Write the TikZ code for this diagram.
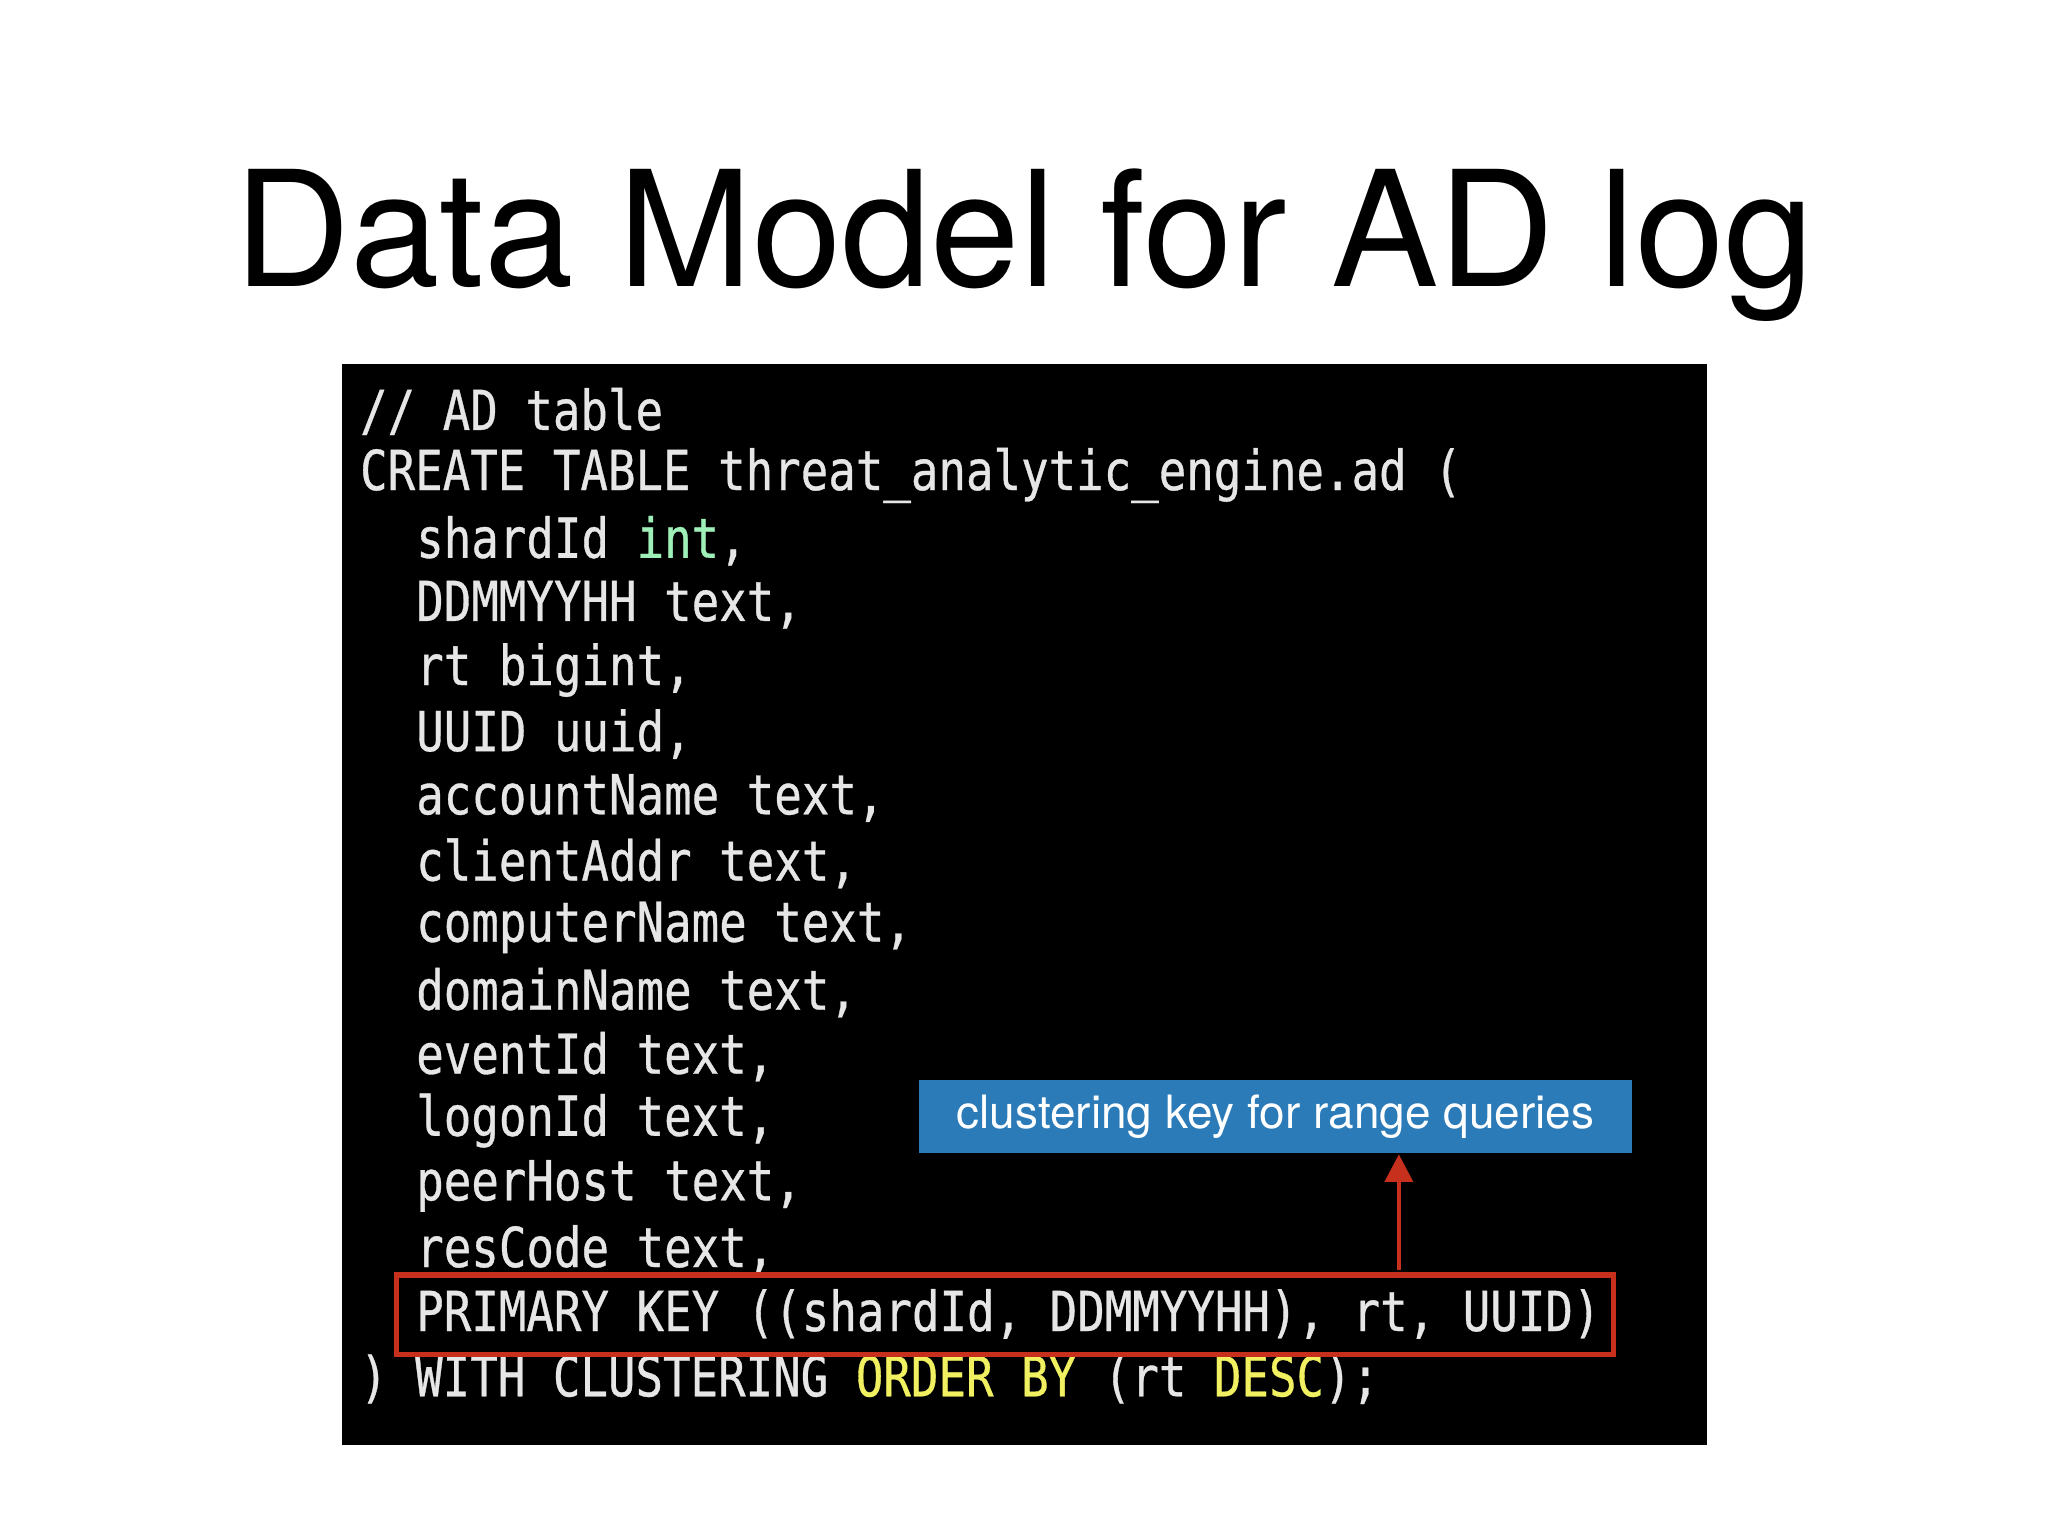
\documentclass[tikz,border=0pt]{standalone}
\usepackage{fontspec}
\setmainfont{TeX Gyre Heros}
\newfontfamily\code[FakeStretch=0.83,FakeBold=0.6]{DejaVu Sans Mono}
\usetikzlibrary{arrows.meta}
\definecolor{codefg}{HTML}{E6E6E6}
\definecolor{kwgreen}{HTML}{9EF0B8}
\definecolor{kwyellow}{HTML}{F0F060}
\definecolor{boxblue}{HTML}{2B7BB9}
\definecolor{keyred}{HTML}{C8301E}
\begin{document}
\begin{tikzpicture}[x=0.01cm,y=-0.01cm,
  codeline/.style={anchor=west,inner sep=0pt,text=codefg,font=\code\fontsize{12}{14}\selectfont},
  ]
\useasboundingbox (0,0) rectangle (1568,1176);
\fill[white] (0,0) rectangle (1568,1176);
\node[font=\fontsize{35}{40}\selectfont] (title) at (784,188) {Data Model for AD log};
\fill[black] (262,279) rectangle (1307,1106);
\node[codeline] (l1) at (275,315) {// AD table};
\node[codeline] (l2) at (275,364) {CREATE TABLE threat\_analytic\_engine.ad (};
\node[codeline] (l3) at (318,414) {shardId \textcolor{kwgreen}{int},};
\node[codeline] (l4) at (318,463) {DDMMYYHH text,};
\node[codeline] (l5) at (318,513) {rt bigint,};
\node[codeline] (l6) at (318,562) {UUID uuid,};
\node[codeline] (l7) at (318,611) {accountName text,};
\node[codeline] (l8) at (318,661) {clientAddr text,};
\node[codeline] (l9) at (318,710) {computerName text,};
\node[codeline] (l10) at (318,760) {domainName text,};
\node[codeline] (l11) at (318,809) {eventId text,};
\node[codeline] (l12) at (318,858) {logonId text,};
\node[codeline] (l13) at (318,908) {peerHost text,};
\node[codeline] (l14) at (318,957) {resCode text,};
\node[codeline] (l15) at (318,1006) {PRIMARY KEY ((shardId, DDMMYYHH), rt, UUID)};
\node[codeline] (l16) at (275,1056) {) WITH CLUSTERING \textcolor{kwyellow}{ORDER BY} (rt \textcolor{kwyellow}{DESC});};
\node[draw=keyred,line width=1.2pt,minimum width=9.31cm,minimum height=0.61cm,inner sep=0pt] (pk) at (769.5,1006.5) {};
\node[fill=boxblue,text=white,minimum width=5.45cm,minimum height=0.56cm,inner sep=0pt,font=\fontsize{10}{12}\selectfont] (note) at (976.5,855) {clustering key for range queries};
\coordinate (ta) at (1071,972);
\draw[keyred,line width=1pt,-{Triangle[length=6pt,width=6pt]}] (ta) -- (ta |- note.south);
\end{tikzpicture}
\end{document}
